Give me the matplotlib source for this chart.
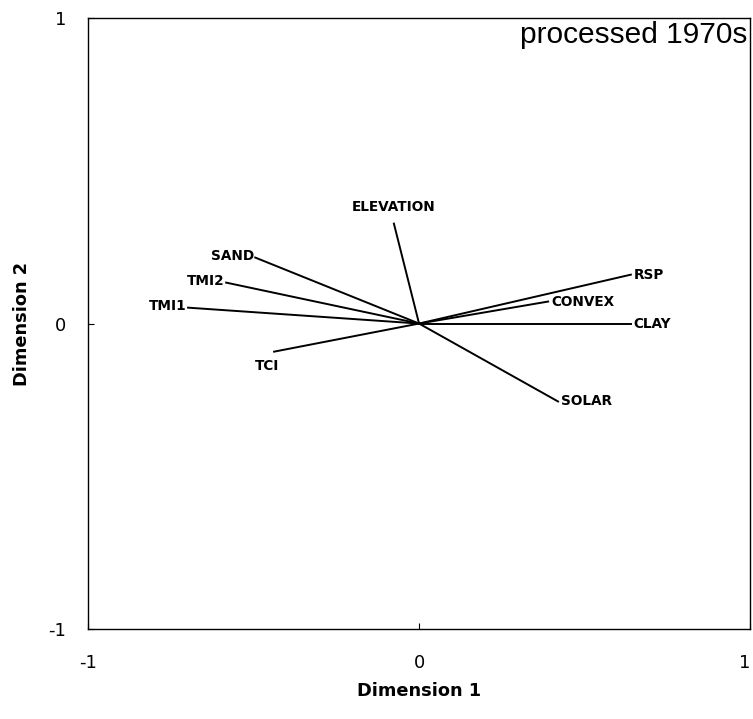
import matplotlib.pyplot as plt

# biplot vectors (Dimension 1, Dimension 2)
names = ['ELEVATION', 'SAND', 'TMI2', 'TMI1', 'TCI',
         'RSP', 'CONVEX', 'CLAY', 'SOLAR']
dim1 = [-0.076, -0.495, -0.583, -0.698, -0.438, 0.640, 0.390, 0.640, 0.420]
dim2 = [0.327, 0.216, 0.134, 0.052, -0.092, 0.160, 0.072, 0.000, -0.255]

if __name__ == '__main__':
    plt.rcParams['font.family'] = 'DejaVu Sans'
    fig = plt.figure(figsize=(7.53, 7.19), dpi=100)
    ax = fig.add_axes([0.117, 0.125, 0.879, 0.850])

    fs = 9.8
    for name, x, y in zip(names, dim1, dim2):
        ax.plot([0, x], [0, y], color='black', lw=1.4)
        if name == 'ELEVATION':
            ax.annotate(name, (x, y), xytext=(0, 7), textcoords='offset points',
                        ha='center', va='bottom', fontsize=fs, fontweight='bold')
        elif name == 'TCI':
            ax.annotate(name, (x, y), xytext=(-5, -5), textcoords='offset points',
                        ha='center', va='top', fontsize=fs, fontweight='bold')
        elif x < 0:
            ax.annotate(name, (x, y), xytext=(-1, 1), textcoords='offset points',
                        ha='right', va='center', fontsize=fs, fontweight='bold')
        else:
            ax.annotate(name, (x, y), xytext=(2, 0), textcoords='offset points',
                        ha='left', va='center', fontsize=fs, fontweight='bold')

    ax.set_xlim(-1, 1)
    ax.set_ylim(-1, 1)
    ax.set_xticks([-1, 0, 1])
    ax.set_yticks([-1, 0, 1])
    ax.set_xticklabels(['-1', '0', '1'])
    ax.set_yticklabels(['-1', '0', '1'])
    ax.tick_params(direction='in', length=4, labelsize=13)
    ax.tick_params(axis='x', pad=18)
    ax.tick_params(axis='y', pad=16)
    ax.get_xticklabels()[-1].set_horizontalalignment('right')
    for s in ax.spines.values():
        s.set_linewidth(1.0)

    ax.set_xlabel('Dimension 1', fontsize=12.8, fontweight='bold', labelpad=7)
    ax.set_ylabel('Dimension 2', fontsize=12.8, fontweight='bold', labelpad=12)
    ax.text(0.996, 0.995, 'processed 1970s', transform=ax.transAxes,
            ha='right', va='top', fontsize=21.5, family='Liberation Sans')

    fig.savefig('out.png', dpi=100)
